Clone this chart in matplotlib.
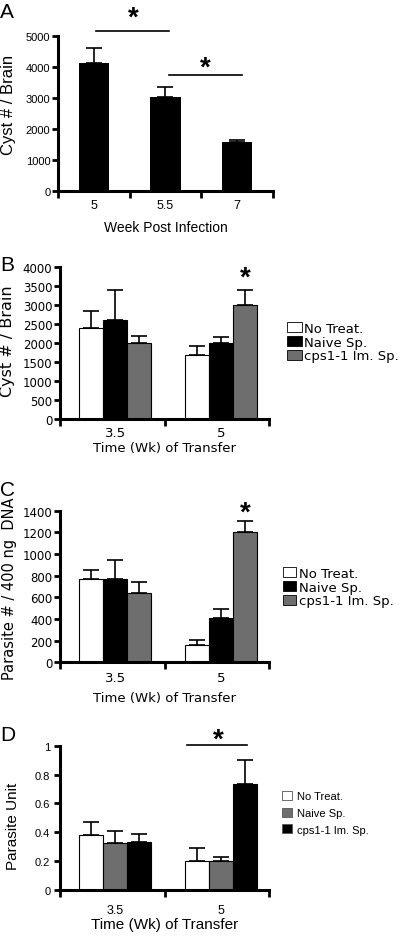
import matplotlib.pyplot as plt
import numpy as np
from matplotlib.patches import Patch

# Panel A: cyst counts by week post infection
a_weeks = ["5", "5.5", "7"]
a_cysts = [4130, 3040, 1570]
a_err = [480, 300, 80]

# Panels B-D: transfer experiments
groups = ["3.5", "5"]
treatments = ["No Treat.", "Naive Sp.", "cps1-1 Im. Sp."]

# B: cyst # / brain, rows = treatments, cols = groups
b_vals = [[2390, 1675], [2600, 1990], [1990, 2985]]
b_err = [[440, 245], [800, 170], [190, 400]]

# C: parasite # / 400 ng DNA
c_vals = [[769, 160], [769, 406], [640, 1206]]
c_err = [[83, 49], [176, 86], [98, 99]]

# D: parasite unit
d_vals = [[0.383, 0.201], [0.323, 0.201], [0.335, 0.734]]
d_err = [[0.088, 0.09], [0.086, 0.03], [0.055, 0.167]]

GRAY = "#6e6e6e"
ARIAL = "Liberation Sans"
DEJAVU = "DejaVu Sans"

fig = plt.figure(figsize=(4, 9.37), dpi=100)


def add_ax(left, top, right, bottom):
    # axes from pixel box of the 400x937 picture
    return fig.add_axes([left / 400, 1 - bottom / 937, (right - left) / 400, (bottom - top) / 937])


def style_axis(ax, font, size):
    for s in ["top", "right"]:
        ax.spines[s].set_visible(False)
    for s in ["left", "bottom"]:
        ax.spines[s].set_linewidth(2.2)
    ax.tick_params(axis="both", which="major", direction="out", length=4, width=2,
                   labelsize=size, labelfontfamily=font, pad=1.5)
    ax.tick_params(axis="x", which="major", labelbottom=False, length=5)
    ax.tick_params(axis="x", which="minor", length=0, labelsize=size + 1, labelfontfamily=font)


def grouped(ax, vals, errs, colors, centers, width):
    for i in range(len(vals)):
        x = np.array(centers) + (i - 1) * width
        ax.bar(x, vals[i], width, color=colors[i], edgecolor="black", linewidth=0.8, zorder=2)
        ax.errorbar(x, vals[i], yerr=[np.zeros(len(errs[i])), errs[i]], fmt="none",
                    ecolor="black", elinewidth=1.2, capsize=6, capthick=1.2, zorder=1)


def star(ax, x, y, size=20):
    ax.text(x, y, "*", ha="center", va="center", fontsize=size, fontweight="bold",
            family=ARIAL, clip_on=False)


# ---------------- Panel A ----------------
ax = add_ax(58, 37, 273, 192)
style_axis(ax, ARIAL, 8)
xa = np.arange(len(a_weeks)) + 0.5
ax.bar(xa, a_cysts, 0.42, color="black", zorder=2)
ax.errorbar(xa, a_cysts, yerr=[np.zeros(3), a_err], fmt="none", ecolor="black",
            elinewidth=1.2, capsize=6, capthick=1.2, zorder=1)
ax.set_xlim(0, 3)
ax.set_ylim(0, 5000)
ax.set_yticks(np.arange(0, 5001, 1000))
ax.set_xticks([0, 1, 2, 3])
ax.set_xticks(xa, a_weeks, minor=True)
ax.tick_params(axis="x", which="minor", pad=6)
ax.set_xlabel("Week Post Infection", fontsize=10, family=ARIAL)
ax.xaxis.set_label_coords(0.5, -0.19)
ax.set_ylabel("Cyst # / Brain", fontsize=12, family=ARIAL)
ax.yaxis.set_label_coords(-0.195, 0.56)
ax.plot([0.53, 1.55], [5160, 5160], color="black", lw=1.2, clip_on=False)
star(ax, 1.05, 5600)
ax.plot([1.55, 2.57], [3740, 3740], color="black", lw=1.2, clip_on=False)
star(ax, 2.05, 3980)
fig.text(0, 1 - 3 / 937, "A", fontsize=15, family=ARIAL, va="top")

centers = [0.53, 1.54]
width = 0.23

# ---------------- Panel B ----------------
ax = add_ax(60, 267.7, 269, 420)
style_axis(ax, DEJAVU, 8.5)
grouped(ax, b_vals, b_err, ["white", "black", GRAY], centers, width)
ax.set_xlim(0, 2)
ax.set_ylim(0, 4000)
ax.set_yticks(np.arange(0, 4001, 500))
ax.set_xticks([0, 1, 2])
ax.set_xticks(centers, groups, minor=True)
ax.tick_params(axis="x", which="minor", pad=5)
ax.set_xlabel("Time (Wk) of Transfer", fontsize=9.5, family=DEJAVU)
ax.xaxis.set_label_coords(0.5, -0.145)
ax.set_ylabel("Cyst # / Brain", fontsize=11.5, family=DEJAVU)
ax.yaxis.set_label_coords(-0.215, 0.52)
star(ax, 1.77, 3700)
handles = [Patch(facecolor=c, edgecolor="black", linewidth=0.6) for c in ["white", "black", GRAY]]
fig.legend(handles, treatments, loc="upper left", bbox_to_anchor=(287 / 400, 1 - 323 / 937),
           frameon=False, borderpad=0, borderaxespad=0, handlelength=1.1, handleheight=0.8,
           handletextpad=0.2, labelspacing=0.05, prop={"family": DEJAVU, "size": 9.5})
fig.text(0, 1 - 256 / 937, "B", fontsize=15, family=ARIAL, va="top")

# ---------------- Panel C ----------------
ax = add_ax(60, 511.7, 269, 663.3)
style_axis(ax, DEJAVU, 8.5)
grouped(ax, c_vals, c_err, ["white", "black", GRAY], centers, width)
ax.set_xlim(0, 2)
ax.set_ylim(0, 1400)
ax.set_yticks(np.arange(0, 1401, 200))
ax.set_xticks([0, 1, 2])
ax.set_xticks(centers, groups, minor=True)
ax.tick_params(axis="x", which="minor", pad=6)
ax.set_xlabel("Time (Wk) of Transfer", fontsize=9.5, family=DEJAVU)
ax.xaxis.set_label_coords(0.5, -0.19)
ax.set_ylabel("Parasite # / 400 ng  DNA", fontsize=10.5, family=DEJAVU)
ax.yaxis.set_label_coords(-0.205, 0.49)
star(ax, 1.77, 1380)
handles = [Patch(facecolor=c, edgecolor="black", linewidth=0.6) for c in ["white", "black", GRAY]]
fig.legend(handles, treatments, loc="upper left", bbox_to_anchor=(283 / 400, 1 - 568 / 937),
           frameon=False, borderpad=0, borderaxespad=0, handlelength=1.0, handleheight=0.8,
           handletextpad=0.2, labelspacing=0.05, prop={"family": DEJAVU, "size": 9.5})
fig.text(0, 1 - 481 / 937, "C", fontsize=15, family=ARIAL, va="top")

# ---------------- Panel D ----------------
ax = add_ax(60, 746.7, 269, 891)
style_axis(ax, ARIAL, 8)
grouped(ax, d_vals, d_err, ["white", GRAY, "black"], centers, width)
ax.set_xlim(0, 2)
ax.set_ylim(0, 1)
ax.set_yticks([0, 0.2, 0.4, 0.6, 0.8, 1], ["0", "0.2", "0.4", "0.6", "0.8", "1"])
ax.tick_params(axis="y", pad=3)
ax.set_xticks([0, 1, 2])
ax.set_xticks(centers, groups, minor=True)
ax.tick_params(axis="x", which="minor", pad=10)
ax.set_xlabel("Time (Wk) of Transfer", fontsize=11, family=ARIAL)
ax.xaxis.set_label_coords(0.5, -0.19)
ax.set_ylabel("Parasite Unit", fontsize=11, family=ARIAL)
ax.yaxis.set_label_coords(-0.19, 0.45)
ax.plot([1.22, 1.79], [1.005, 1.005], color="black", lw=1.2, clip_on=False)
star(ax, 1.51, 1.04)
handles = [Patch(facecolor=c, edgecolor="#555555", linewidth=0.6) for c in ["white", GRAY, "black"]]
fig.legend(handles, treatments, loc="upper left", bbox_to_anchor=(282 / 400, 1 - 792 / 937),
           frameon=False, borderpad=0, borderaxespad=0, handlelength=0.9, handleheight=0.9,
           handletextpad=0.45, labelspacing=0.55, prop={"family": ARIAL, "size": 8})
fig.text(0, 1 - 726 / 937, "D", fontsize=15, family=ARIAL, va="top")

fig.savefig("out.png", dpi=100)
